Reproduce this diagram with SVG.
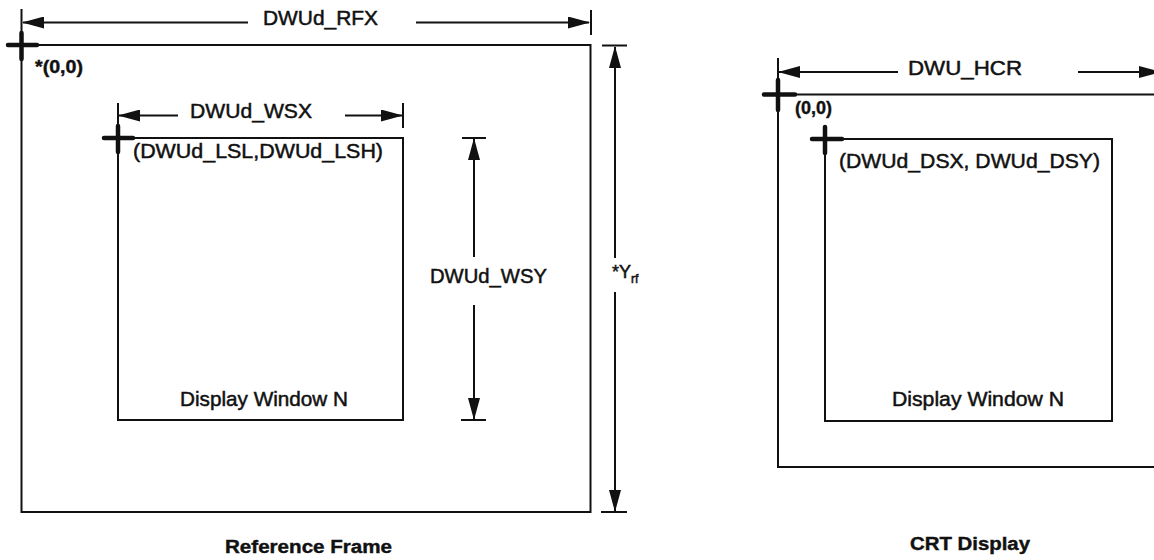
<svg xmlns="http://www.w3.org/2000/svg" width="1154" height="560" viewBox="0 0 1154 560">
<defs>
<style>
.ln{fill:none;stroke:#111;stroke-width:2;stroke-linecap:butt}
.cr{fill:none;stroke:#111;stroke-width:4.5;stroke-linecap:round}
.t{font-family:"Liberation Sans",Arial,Helvetica,sans-serif;font-size:21px;fill:#111;stroke:#111;stroke-width:0.5}
.b{font-family:"Liberation Sans",Arial,Helvetica,sans-serif;font-size:18px;font-weight:bold;fill:#111;stroke:#111;stroke-width:0.4}
</style>
<marker id="ah" viewBox="0 0 22 12" markerWidth="22" markerHeight="12" refX="21" refY="6" orient="auto" markerUnits="userSpaceOnUse">
<path d="M0,0 L22,6 L0,12 Z" fill="#111"/>
</marker>
</defs>
<rect width="1154" height="560" fill="#fff"/>

<g id="reference-frame">
<rect class="ln" x="21.5" y="45" width="569" height="467"/>
<line class="ln" x1="21.5" y1="9" x2="21.5" y2="45"/>
<path class="cr" d="M8,45 H37 M21.5,33 V59"/>
<text class="b" x="35" y="73" textLength="48" lengthAdjust="spacingAndGlyphs">*(0,0)</text>
<text class="b" x="225" y="553" textLength="167" lengthAdjust="spacingAndGlyphs">Reference Frame</text>
</g>

<g id="display-window-left">
<rect class="ln" x="118" y="138" width="285" height="282"/>
<line class="ln" x1="118" y1="103" x2="118" y2="138"/>
<path class="cr" d="M104,138 H133 M118,126 V152"/>
<text class="t" x="133" y="158" textLength="250" lengthAdjust="spacingAndGlyphs">(DWUd_LSL,DWUd_LSH)</text>
<text class="t" x="180" y="406" textLength="168" lengthAdjust="spacingAndGlyphs">Display Window N</text>
</g>

<g id="crt-display">
<path class="ln" d="M1154,94.5 H778 V467 H1154"/>
<line class="ln" x1="778" y1="58" x2="778" y2="94.5"/>
<path class="cr" d="M764,94.5 H795 M778,80 V110"/>
<text class="b" x="795" y="114" textLength="37" lengthAdjust="spacingAndGlyphs">(0,0)</text>
<text class="b" x="910" y="550" textLength="120" lengthAdjust="spacingAndGlyphs">CRT Display</text>
</g>

<g id="display-window-right">
<rect class="ln" x="825" y="139" width="287" height="282"/>
<path class="cr" d="M812,139 H842 M825,127 V153"/>
<text class="t" x="839" y="168" textLength="261" lengthAdjust="spacingAndGlyphs">(DWUd_DSX, DWUd_DSY)</text>
<text class="t" x="892" y="406" textLength="172" lengthAdjust="spacingAndGlyphs">Display Window N</text>
</g>

<g id="connectors">
<line class="ln" x1="248" y1="22.5" x2="23" y2="22.5" marker-end="url(#ah)"/>
<line class="ln" x1="416" y1="22.5" x2="589" y2="22.5" marker-end="url(#ah)"/>
<line class="ln" x1="591" y1="10" x2="591" y2="35"/>
<text class="t" x="263" y="25" textLength="115" lengthAdjust="spacingAndGlyphs">DWUd_RFX</text>
<line class="ln" x1="602" y1="45.5" x2="627" y2="45.5"/>
<line class="ln" x1="601" y1="512" x2="627" y2="512"/>
<line class="ln" x1="615" y1="258" x2="615" y2="47" marker-end="url(#ah)"/>
<line class="ln" x1="615" y1="292" x2="615" y2="511" marker-end="url(#ah)"/>
<text class="t" x="612" y="278" style="font-size:18px">*Y<tspan dy="5" style="font-size:12px">rf</tspan></text>
<line class="ln" x1="178" y1="115.5" x2="119" y2="115.5" marker-end="url(#ah)"/>
<line class="ln" x1="345" y1="115.5" x2="402" y2="115.5" marker-end="url(#ah)"/>
<line class="ln" x1="403" y1="103" x2="403" y2="128"/>
<text class="t" x="190" y="118" textLength="122" lengthAdjust="spacingAndGlyphs">DWUd_WSX</text>
<line class="ln" x1="462" y1="138" x2="486" y2="138"/>
<line class="ln" x1="461" y1="420" x2="486" y2="420"/>
<line class="ln" x1="474" y1="257" x2="474" y2="139" marker-end="url(#ah)"/>
<line class="ln" x1="474" y1="305" x2="474" y2="419" marker-end="url(#ah)"/>
<text class="t" x="430" y="283" textLength="117" lengthAdjust="spacingAndGlyphs">DWUd_WSY</text>
<line class="ln" x1="898" y1="72" x2="779" y2="72" marker-end="url(#ah)"/>
<line class="ln" x1="1078" y1="72" x2="1160" y2="72" marker-end="url(#ah)"/>
<text class="t" x="908" y="75" textLength="114" lengthAdjust="spacingAndGlyphs">DWU_HCR</text>
</g>
</svg>
